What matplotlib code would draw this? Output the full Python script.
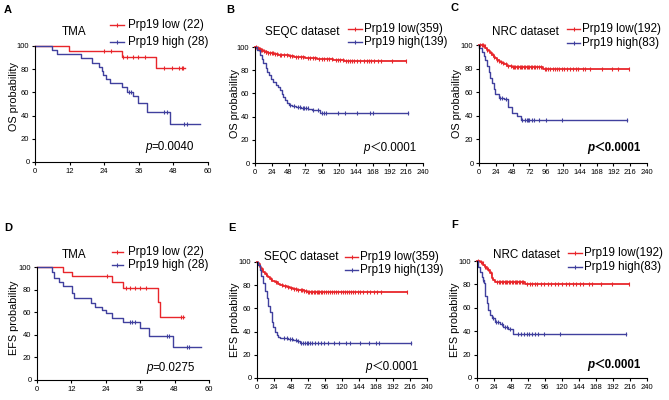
import numpy as np
import matplotlib
matplotlib.use('Agg')
import matplotlib.pyplot as plt
from matplotlib.lines import Line2D

plt.rcParams['font.family'] = ['Liberation Sans', 'Noto Sans CJK SC', 'DejaVu Sans']

W, H = 669, 400
RED = '#e8262b'
BLUE = '#40409e'

# A: TMA, overall survival
a_low_t = [0, 11.9, 30.0, 41.8, 52.0]
a_low_s = [100, 95.5, 90.8, 80.7, 80.7]
a_low_cens = [23.9, 26.4, 30.6, 31.8, 34.1, 35.8, 38.2, 44.9, 47.4, 50.1, 50.9, 51.4]
a_high_t = [0, 5.8, 7.7, 16.0, 19.7, 22.2, 23.1, 23.7, 24.6, 26.0, 30.0, 31.8, 34.1, 35.6, 39.0, 46.8, 57.2]
a_high_s = [100, 96.4, 92.9, 89.3, 85.7, 82.1, 78.6, 75.0, 71.4, 67.9, 64.3, 60.7, 56.6, 51.0, 43.4, 32.5, 32.5]
a_high_cens = [32.6, 33.3, 44.7, 45.7, 51.8, 52.8]

# B: SEQC, overall survival
b_low_t = [0, 2, 5, 8, 11, 14, 18, 22, 27, 33, 40, 48, 56, 64, 72, 80, 88, 100, 112, 127, 216]
b_low_s = [100, 99.4, 98.6, 97.5, 96.6, 95.8, 95.0, 94.4, 93.8, 93.3, 92.8, 92.2, 91.7, 91.2,
           90.7, 90.2, 89.8, 89.4, 89.0, 88.0, 88.0]
b_low_cens = [1, 3, 4, 6, 7, 9, 10, 13, 15, 16, 19, 21, 24, 26, 29, 31, 35, 37, 42, 45, 50, 53,
              58, 61, 66, 69, 75, 78, 83, 86, 91, 95, 98, 103, 106, 110, 115, 118, 122, 125, 130,
              133, 136, 139, 142, 146, 150, 155, 160, 163, 166, 170, 175, 180, 196, 216]
b_high_t = [0, 3, 7, 10, 12, 15, 17, 20, 23, 26, 30, 33, 36, 38, 40, 43, 46, 49, 53, 58, 66, 76,
            82, 93, 219]
b_high_s = [100, 97.8, 93.5, 89.9, 86.3, 82.0, 78.4, 75.5, 72.7, 69.8, 67.6, 65.5, 62.6, 59.7,
            56.8, 53.9, 51.8, 50.4, 48.9, 48.2, 47.5, 46.8, 45.3, 43.4, 43.4]
b_high_cens = [50, 55, 62, 64, 68, 70, 73, 75, 83, 90, 96, 98, 102, 119, 128, 145, 164, 169, 219]

# C: NRC, overall survival
c_low_t = [0, 6.7, 9, 11.4, 14, 16, 18.6, 21, 23.5, 25.7, 28, 30, 33, 36, 40, 44, 47, 92, 214]
c_low_s = [100, 98.8, 97.3, 95.8, 94.6, 93.0, 91.5, 90.2, 88.8, 87.3, 86.3, 85.5, 84.5, 83.5,
           82.3, 81.8, 81.4, 79.4, 79.4]
c_low_cens = [2, 4, 5, 8, 12, 17, 20, 22, 26, 29, 31, 34, 38, 42, 45, 48, 50, 52, 54, 56, 58, 60,
              62, 64, 66, 68, 70, 72, 74, 76, 78, 80, 83, 86, 89, 94, 96, 99, 102, 105, 108, 111,
              114, 118, 122, 126, 130, 134, 138, 142, 148, 152, 159, 176, 190, 199, 214]
c_high_t = [0, 0.5, 4, 7, 9, 11, 14, 16, 18.6, 21, 23, 28, 35, 42, 47, 54, 60, 211]
c_high_s = [100, 97.3, 94.0, 90.4, 86.9, 82.0, 77.0, 72.0, 68.0, 63.0, 58.5, 55.0, 54.5, 47.7,
            42.0, 39.8, 36.5, 36.5]
c_high_cens = [30, 33, 38, 62, 65, 68, 70, 72, 75, 78, 85, 95, 118, 211]

# D: TMA, event-free survival
d_low_t = [0, 9.0, 12.1, 26.0, 29.9, 42.1, 42.9, 51.3]
d_low_s = [100, 95.9, 92.0, 86.4, 81.1, 69.3, 56.0, 56.0]
d_low_cens = [24.3, 31.0, 32.4, 34.2, 35.9, 38.0, 50.1, 50.8]
d_high_t = [0, 5.1, 5.9, 7.7, 9.2, 12.1, 13.0, 18.8, 20.2, 22.6, 24.1, 26.0, 30.1, 35.9, 39.2, 47.3, 57.1]
d_high_s = [100, 95.9, 90.3, 87.0, 83.2, 76.7, 72.3, 67.8, 64.9, 61.9, 59.0, 54.6, 51.6, 45.7,
            38.9, 29.5, 29.5]
d_high_cens = [32.4, 33.0, 34.2, 45.2, 46.2, 52.2, 53.0]

# E: SEQC, event-free survival
e_low_t = [0, 2, 4, 6, 9, 11, 13.6, 16, 18, 21, 25, 29, 32.5, 37, 42, 46, 51, 56, 61, 66, 70, 212]
e_low_s = [100, 98.0, 96.0, 93.8, 91.7, 89.8, 88.2, 86.7, 85.3, 83.9, 82.5, 81.3, 80.2, 79.1,
           78.2, 77.4, 76.7, 76.2, 75.7, 75.1, 74.5, 74.5]
e_low_cens = [3, 7, 12, 20, 27, 35, 40, 44, 48, 52, 55, 58, 62, 64, 67, 69, 72, 74, 76, 78, 80,
              82, 84, 86, 88, 90, 92, 95, 97, 100, 103, 106, 109, 112, 115, 118, 121, 124, 127,
              130, 133, 136, 139, 142, 146, 150, 155, 160, 165, 170, 175, 212]
e_high_t = [0, 2, 4, 6, 9, 11, 13.6, 16, 18, 20.7, 23, 25.4, 28, 30, 33, 37, 44, 51, 56, 61, 217]
e_high_s = [100, 97.0, 93.0, 88.0, 81.6, 75.0, 68.7, 62.5, 57.0, 48.6, 44.3, 40.0, 37.5, 35.6,
            34.8, 34.2, 33.5, 32.8, 31.5, 30.0, 30.0]
e_high_cens = [38, 42, 46, 50, 55, 58, 62, 65, 68, 70, 72, 75, 78, 82, 86, 90, 95, 100, 108, 116,
               125, 132, 145, 158, 168, 172, 217]

# F: NRC, event-free survival
f_low_t = [0, 4, 6.6, 9, 11, 13.5, 16, 18.4, 20.7, 23, 25.4, 68, 215]
f_low_s = [100, 99.0, 98.0, 96.5, 95.0, 93.5, 92.3, 89.5, 85.2, 83.5, 82.0, 80.6, 80.6]
f_low_cens = [2, 5, 8, 12, 15, 20, 28, 31, 33, 35, 37, 39, 41, 43, 45, 47, 49, 51, 53, 55, 57, 59,
              61, 63, 65, 70, 75, 78, 82, 85, 90, 95, 100, 105, 110, 115, 120, 125, 130, 135, 140,
              145, 150, 158, 163, 175, 190, 215]
f_high_t = [0, 1, 2, 4, 6.6, 8, 10, 11, 12, 13.6, 16, 18.4, 20.7, 25.4, 32.5, 37, 44, 51, 211]
f_high_s = [100, 97.5, 95.0, 91.0, 86.0, 83.5, 81.0, 76.0, 70.0, 63.8, 58.0, 53.8, 51.0, 48.1,
            45.9, 43.9, 41.9, 37.5, 37.5]
f_high_cens = [9, 22, 27, 30, 35, 40, 42, 47, 58, 62, 66, 70, 74, 77, 82, 86, 94, 117, 211]

panels = [
    dict(letter='A', lpos=(4, 10), rect=(35, 208, 46, 162), xmax=60, xstep=12, ylab='OS probability',
         lx=-0.095, ly=0.565, title='TMA', tpos=(74, 32), leg=(110, 124, 128, 25, 42),
         labels=('Prp19 low (22)', 'Prp19 high (28)'), p=('=0.0040', 145, 147, False),
         low=(a_low_t, a_low_s, a_low_cens), high=(a_high_t, a_high_s, a_high_cens), lw=1.0),
    dict(letter='B', lpos=(226, 10), rect=(255, 423, 47, 163), xmax=240, xstep=24, ylab='OS probability',
         lx=-0.09, ly=0.51, title='SEQC dataset', tpos=(302, 32), leg=(348, 362, 364, 29, 42),
         labels=('Prp19 low(359)', 'Prp19 high(139)'), p=('＜0.0001', 363, 148, False),
         low=(b_low_t, b_low_s, b_low_cens), high=(b_high_t, b_high_s, b_high_cens), lw=1.3),
    dict(letter='C', lpos=(450, 8), rect=(479, 647, 45, 163), xmax=240, xstep=24, ylab='OS probability',
         lx=-0.1, ly=0.5, title='NRC dataset', tpos=(525, 32), leg=(567, 580, 582, 29, 43),
         labels=('Prp19 low(192)', 'Prp19 high(83)'), p=('＜0.0001', 587, 148, True),
         low=(c_low_t, c_low_s, c_low_cens), high=(c_high_t, c_high_s, c_high_cens), lw=1.3),
    dict(letter='D', lpos=(4, 228), rect=(37, 209, 267, 380), xmax=60, xstep=12, ylab='EFS probability',
         lx=-0.105, ly=0.553, title='TMA', tpos=(74, 255), leg=(112, 123, 128, 252, 265),
         labels=('Prp19 low (22)', 'Prp19 high (28)'), p=('=0.0275', 146, 368, False),
         low=(d_low_t, d_low_s, d_low_cens), high=(d_high_t, d_high_s, d_high_cens), lw=1.0),
    dict(letter='E', lpos=(228, 228), rect=(257, 427, 262, 378), xmax=240, xstep=24, ylab='EFS probability',
         lx=-0.1, ly=0.5, title='SEQC dataset', tpos=(301, 257), leg=(345, 358, 360, 257, 270),
         labels=('Prp19 low(359)', 'Prp19 high(139)'), p=('＜0.0001', 365, 367, False),
         low=(e_low_t, e_low_s, e_low_cens), high=(e_high_t, e_high_s, e_high_cens), lw=1.3),
    dict(letter='F', lpos=(451, 225), rect=(477, 647, 261, 378), xmax=240, xstep=24, ylab='EFS probability',
         lx=-0.1, ly=0.5, title='NRC dataset', tpos=(526, 255), leg=(568, 582, 584, 253, 267),
         labels=('Prp19 low(192)', 'Prp19 high(83)'), p=('＜0.0001', 587, 365, True),
         low=(f_low_t, f_low_s, f_low_cens), high=(f_high_t, f_high_s, f_high_cens), lw=1.3),
]


def fx(x):
    return x / W


def fy(y):
    return 1 - y / H


def surv_at(t, s, c):
    idx = np.searchsorted(t, c, side='right') - 1
    return np.asarray(s)[idx]


def draw_curve(ax, t, s, cens, color, lw):
    ax.step(t, s, where='post', color=color, lw=lw, clip_on=False)
    ax.plot(cens, surv_at(t, s, cens), ls='none', marker='|', ms=3.5, mew=0.8,
            color=color, clip_on=False)


fig = plt.figure(figsize=(W / 100, H / 100), dpi=100)

for p in panels:
    x0, x1, yt, yb = p['rect']
    ax = fig.add_axes([fx(x0), fy(yb), (x1 - x0) / W, (yb - yt) / H])
    draw_curve(ax, *p['low'], RED, p['lw'])
    draw_curve(ax, *p['high'], BLUE, 1.0)
    ax.set_xlim(0, p['xmax'])
    ax.set_ylim(0, 100)
    ax.set_xticks(np.arange(0, p['xmax'] + 1, p['xstep']))
    ax.set_yticks(np.arange(0, 101, 20))
    for side in ['top', 'right']:
        ax.spines[side].set_visible(False)
    for side in ['left', 'bottom']:
        ax.spines[side].set_linewidth(0.8)
    ax.tick_params(direction='out', length=2.5, width=0.8, labelsize=5.5, pad=1.5)
    ax.set_ylabel(p['ylab'], fontsize=7.8)
    ax.yaxis.set_label_coords(p['lx'], p['ly'])

    fig.text(fx(p['lpos'][0]), fy(p['lpos'][1]), p['letter'], fontsize=8, fontweight='bold',
             ha='left', va='center')
    fig.text(fx(p['tpos'][0]), fy(p['tpos'][1]), p['title'], fontsize=8.4, ha='center', va='center')

    # legend drawn by hand to sit where the original puts it
    lx0, lx1, tx, r1, r2 = p['leg']
    for color, row, label in [(RED, r1, p['labels'][0]), (BLUE, r2, p['labels'][1])]:
        fig.add_artist(Line2D([fx(lx0), fx(lx1)], [fy(row), fy(row)], color=color, lw=1.0,
                              transform=fig.transFigure))
        fig.add_artist(Line2D([fx((lx0 + lx1) / 2)], [fy(row)], color=color, marker='|', ms=3.5,
                              mew=0.8, ls='none', transform=fig.transFigure))
        fig.text(fx(tx), fy(row), label, fontsize=8.4, ha='left', va='center')

    rest, ptx, pty, bold = p['p']
    weight = 'bold' if bold else 'normal'
    ptxt = fig.text(fx(ptx), fy(pty), 'p', fontsize=8.4, style='italic', fontweight=weight,
                    ha='left', va='center')
    ax.annotate(rest, xy=(1, 0), xycoords=ptxt, fontsize=8.4, fontweight=weight,
                ha='left', va='bottom')

fig.savefig('out.png', dpi=100)
